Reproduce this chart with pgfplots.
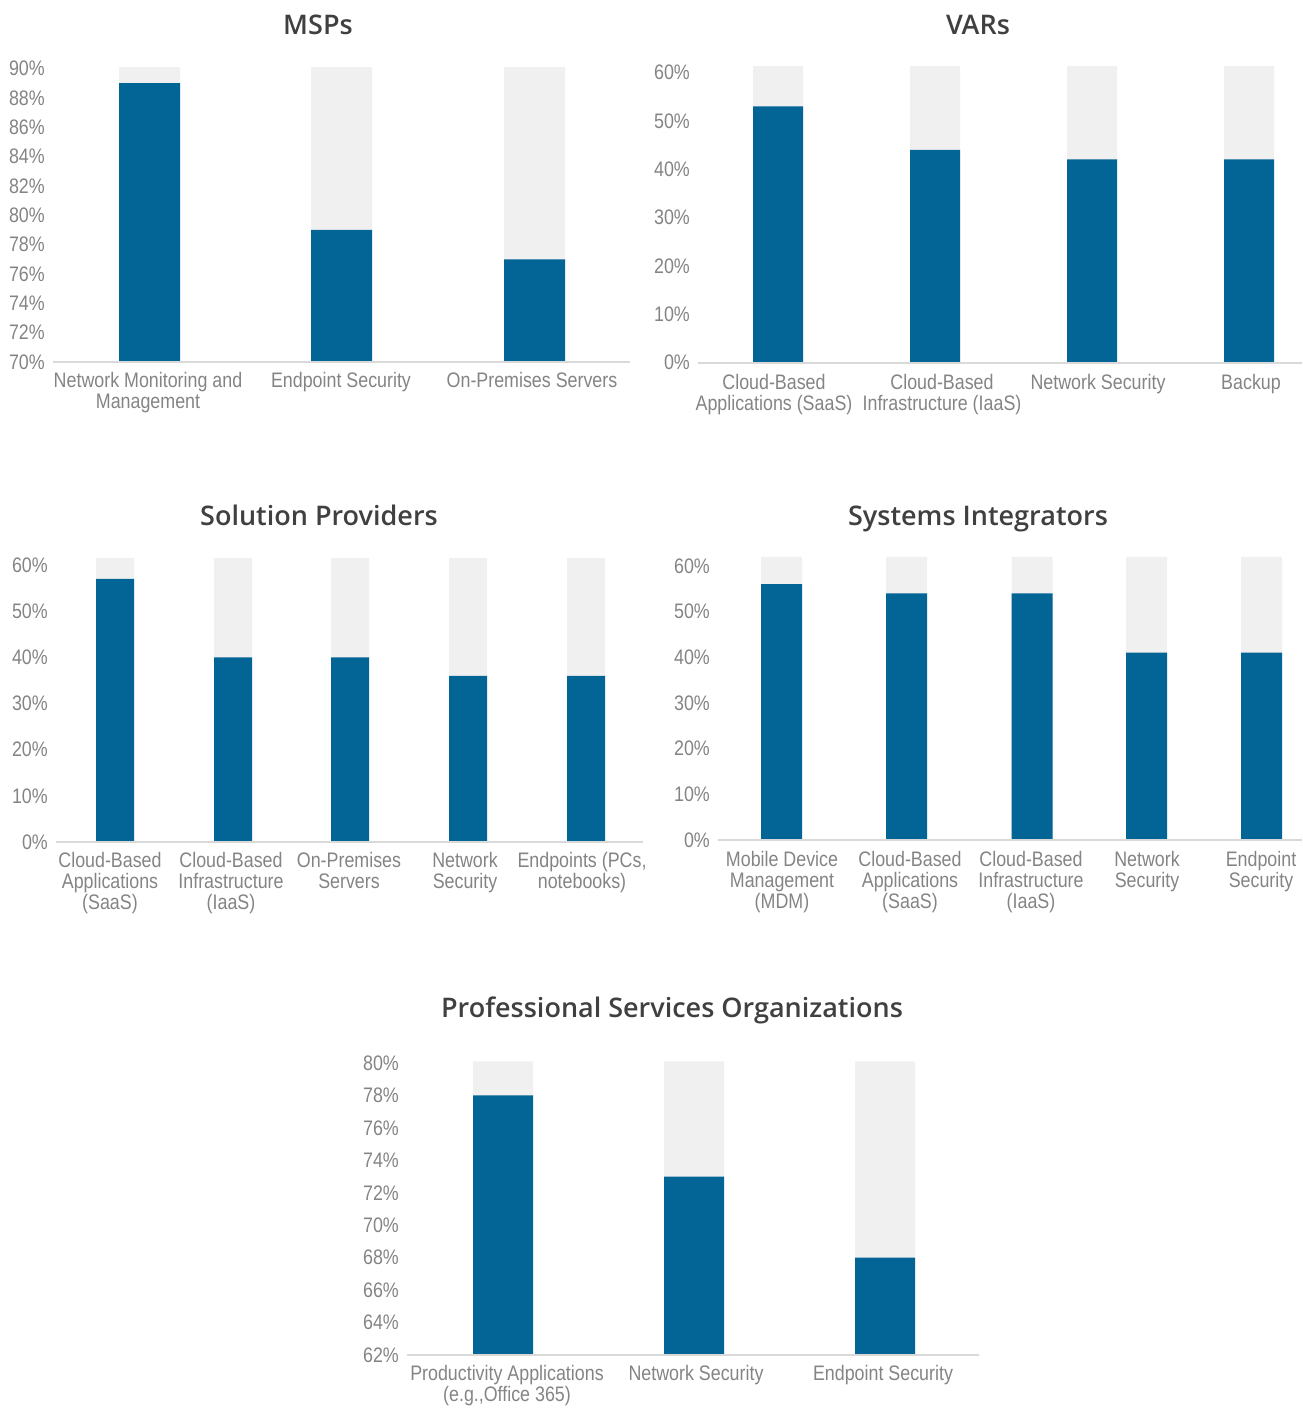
\documentclass[border=0pt]{standalone}
\usepackage{fontspec}
\usepackage{pgfplots}
\pgfplotsset{compat=1.18}
\setmainfont{Liberation Sans}
\newfontfamily\labfont[FakeStretch=0.85]{Liberation Sans}
\IfFontExistsTF{Open Sans Semibold}{\newfontfamily\titfont{Open Sans Semibold}}{\newfontfamily\titfont{Open Sans}[FakeBold=1.6]}
\definecolor{barc}{HTML}{026596}
\definecolor{bgc}{HTML}{F0F0F0}
\definecolor{basec}{HTML}{D9D9D9}
\definecolor{labc}{HTML}{848484}
\definecolor{titc}{HTML}{404040}
\pgfplotsset{
  chart/.style={
    scale only axis,
    anchor=south west,
    axis line style={draw=none},
    tick style={draw=none},
    clip mode=individual,
    ticklabel style={font=\labfont\fontsize{21pt}{21pt}\selectfont, text=labc},
    yticklabel style={anchor=east, inner sep=0pt, xshift=-8pt},
    xticklabel style={anchor=north, inner sep=0pt, yshift=-10pt, align=center},
    xtick pos=bottom, ytick pos=left,
  },
  bg/.style={ybar, bar shift=0pt, fill=bgc, draw=none},
  fg/.style={ybar, bar shift=0pt, fill=barc, draw=none},
}
\newcommand{\baseline}{\draw[basec, line width=2pt] (rel axis cs:0,0) -- (rel axis cs:1,0);}
\newcommand{\tfont}{\titfont\fontsize{27pt}{30pt}\selectfont}
\begin{document}
\begin{tikzpicture}
\path[use as bounding box] (0pt,0pt) rectangle (1302pt,-1408pt);
% ---------- MSPs
\node[font=\tfont, text=titc] at (318pt,-25pt) {MSPs};
\begin{axis}[chart, at={(53pt,-362pt)}, width=577pt, height=295pt,
  xmin=53, xmax=630, ymin=70, ymax=90.1,
  ytick={70,72,...,90}, yticklabels={70\%,72\%,74\%,76\%,78\%,80\%,82\%,84\%,86\%,88\%,90\%},
  xtick={148,341,532},
  xticklabels={{Network Monitoring and\\Management},{Endpoint Security},{On-Premises Servers}}]
\addplot[bg, bar width=61pt] coordinates {(149.5,90.1) (341.5,90.1) (534.5,90.1)};
\addplot[fg, bar width=61pt] coordinates {(149.5,89) (341.5,79) (534.5,77)};
\baseline
\end{axis}
% ---------- VARs
\node[font=\tfont, text=titc] at (978pt,-25pt) {VARs};
\begin{axis}[chart, at={(698pt,-362.5pt)}, width=604pt, height=296.3pt,
  xmin=698, xmax=1302, ymin=0, ymax=61.3,
  xticklabel style={yshift=-2pt},
  ytick={0,10,...,60}, yticklabels={0\%,10\%,20\%,30\%,40\%,50\%,60\%},
  xtick={774,942,1098,1251},
  xticklabels={{Cloud-Based\\Applications (SaaS)},{Cloud-Based\\Infrastructure (IaaS)},{Network Security},{Backup}}]
\addplot[bg, bar width=50pt] coordinates {(778,61.3) (935,61.3) (1092,61.3) (1249,61.3)};
\addplot[fg, bar width=50pt] coordinates {(778,53) (935,44) (1092,42) (1249,42)};
\baseline
\end{axis}
% ---------- Solution Providers
\node[font=\tfont, text=titc] at (319pt,-515pt) {Solution Providers};
\begin{axis}[chart, at={(56pt,-842pt)}, width=587pt, height=283.9pt,
  xmin=56, xmax=643, ymin=0, ymax=61.5,
  ytick={0,10,...,60}, yticklabels={0\%,10\%,20\%,30\%,40\%,50\%,60\%},
  xtick={110,231,349,465,582},
  xticklabels={{Cloud-Based\\Applications\\(SaaS)},{Cloud-Based\\Infrastructure\\(IaaS)},{On-Premises\\Servers},{Network\\Security},{Endpoints (PCs,\\notebooks)}}]
\addplot[bg, bar width=38pt] coordinates {(115,61.5) (233,61.5) (350,61.5) (468,61.5) (586,61.5)};
\addplot[fg, bar width=38pt] coordinates {(115,57) (233,40) (350,40) (468,36) (586,36)};
\baseline
\end{axis}
% ---------- Systems Integrators
\node[font=\tfont, text=titc] at (978pt,-519pt) {Systems Integrators};
\begin{axis}[chart, at={(718pt,-840pt)}, width=584pt, height=283.2pt,
  xmin=718, xmax=1302, ymin=0, ymax=62,
  xticklabel style={yshift=-1pt},
  ytick={0,10,...,60}, yticklabels={0\%,10\%,20\%,30\%,40\%,50\%,60\%},
  xtick={782,910,1031,1147,1261},
  xticklabels={{Mobile Device\\Management\\(MDM)},{Cloud-Based\\Applications\\(SaaS)},{Cloud-Based\\Infrastructure\\(IaaS)},{Network\\Security},{Endpoint\\Security}}]
\addplot[bg, bar width=41pt] coordinates {(781.5,62) (906.5,62) (1032,62) (1146.5,62) (1261.5,62)};
\addplot[fg, bar width=41pt] coordinates {(781.5,56) (906.5,54) (1032,54) (1146.5,41) (1261.5,41)};
\baseline
\end{axis}
% ---------- Professional Services Organizations
\node[font=\tfont, text=titc] at (672pt,-1010pt) {Professional Services Organizations};
\begin{axis}[chart, at={(407pt,-1355pt)}, width=572pt, height=293.6pt,
  xmin=407, xmax=979, ymin=62, ymax=80.1,
  ytick={62,64,...,80}, yticklabels={62\%,64\%,66\%,68\%,70\%,72\%,74\%,76\%,78\%,80\%},
  xtick={507,696,883},
  xticklabels={{Productivity Applications\\(e.g.,Office 365)},{Network Security},{Endpoint Security}}]
\addplot[bg, bar width=60pt] coordinates {(503,80.1) (694,80.1) (885,80.1)};
\addplot[fg, bar width=60pt] coordinates {(503,78) (694,73) (885,68)};
\baseline
\end{axis}
\end{tikzpicture}
\end{document}
